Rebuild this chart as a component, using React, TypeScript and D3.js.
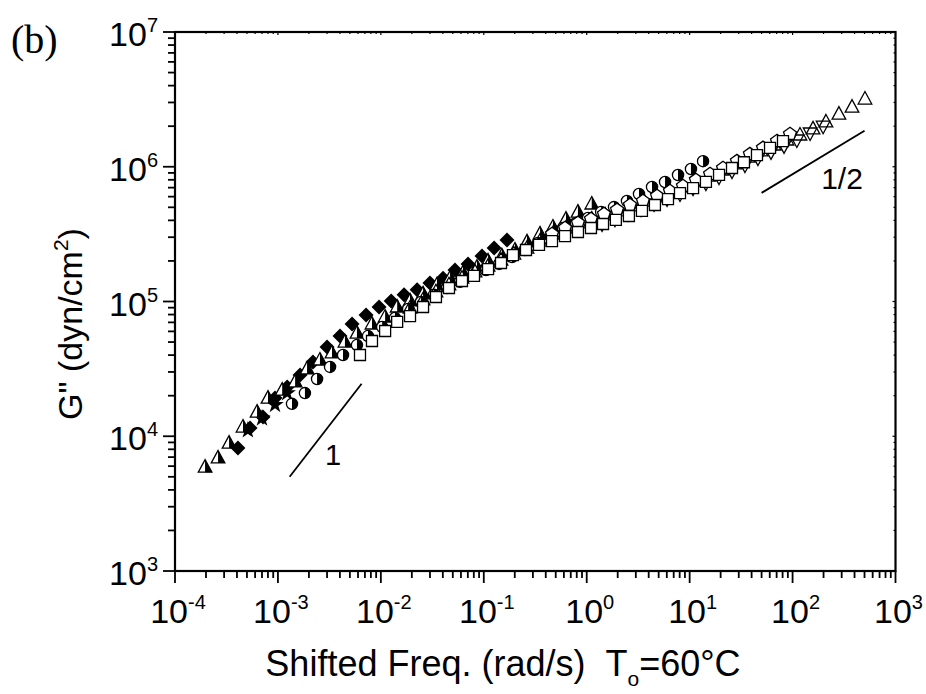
import React from 'react';
import * as d3 from 'd3';

// tick labels (powers of ten)
const xExponents = [-4, -3, -2, -1, 0, 1, 2, 3];
const yExponents = [3, 4, 5, 6, 7];

// filled diamonds
const diamondFreq = [4.09e-4, 5.36e-4, 7.16e-4, 9.37e-4, 1.23e-3, 1.64e-3, 2.19e-3, 3.0e-3, 4.01e-3, 5.25e-3, 7.18e-3, 9.6e-3, 1.26e-2, 1.68e-2, 2.25e-2, 3.0e-2, 4.02e-2, 5.25e-2, 7.03e-2, 9.61e-2, 0.126, 0.168];
const diamondG = [8.18e3, 1.15e4, 1.39e4, 1.92e4, 2.32e4, 2.85e4, 3.56e4, 4.59e4, 5.54e4, 6.8e4, 7.94e4, 9.1e4, 1.01e5, 1.12e5, 1.22e5, 1.37e5, 1.49e5, 1.71e5, 1.9e5, 2.18e5, 2.49e5, 2.86e5];

// half filled triangles
const halfTriFreq = [1.96e-4, 2.62e-4, 3.35e-4, 4.58e-4, 6.27e-4, 8.01e-4, 1.1e-3, 1.47e-3, 1.92e-3, 2.56e-3, 3.35e-3, 4.48e-3, 5.86e-3, 8.2e-3, 1.1e-2, 1.44e-2, 1.92e-2, 2.57e-2, 3.51e-2, 4.7e-2, 6.28e-2, 8.59e-2, 0.11, 0.15, 0.201, 0.263, 0.352, 0.47, 0.629, 0.822, 1.12];
const halfTriG = [5.9e3, 6.9e3, 8.9e3, 1.17e4, 1.51e4, 1.92e4, 2.2e4, 2.53e4, 3.16e4, 3.68e4, 4.15e4, 5.0e4, 5.83e4, 6.81e4, 7.67e4, 9.1e4, 1.01e5, 1.14e5, 1.33e5, 1.49e5, 1.63e5, 1.8e5, 2.0e5, 2.18e5, 2.41e5, 2.77e5, 3.17e5, 3.57e5, 4.09e5, 4.61e5, 5.29e5];

// stars
const starFreq = [5.11e-4, 7.0e-4, 9.37e-4, 1.23e-3];
const starG = [1.11e4, 1.36e4, 1.71e4, 2.09e4];

// half filled circles
const halfCircFreq = [1.37e-3, 1.83e-3, 2.4e-3, 3.21e-3, 4.29e-3, 5.86e-3, 7.5e-3, 1.03e-2, 1.37e-2, 1.84e-2, 2.45e-2, 3.28e-2, 4.39e-2, 5.87e-2, 7.85e-2, 0.105, 0.141, 0.188, 0.251, 0.336, 0.45, 0.589, 0.787, 1.03, 1.38, 1.84, 2.46, 3.22, 4.31, 5.77, 7.71, 10.3, 13.5];
const halfCircG = [1.74e4, 2.09e4, 2.66e4, 3.27e4, 4.01e4, 4.75e4, 5.54e4, 6.47e4, 7.55e4, 8.8e4, 9.91e4, 1.12e5, 1.26e5, 1.4e5, 1.55e5, 1.71e5, 1.9e5, 2.14e5, 2.41e5, 2.72e5, 3.06e5, 3.51e5, 3.83e5, 4.17e5, 4.61e5, 5.02e5, 5.57e5, 6.28e5, 7.08e5, 7.71e5, 8.69e5, 9.62e5, 1.1e6];

// open triangles
const triFreq = [0.0192, 0.0257, 0.0343, 0.0459, 0.0614, 0.0822, 0.11, 0.147, 0.196, 0.263, 0.352, 0.47, 0.629, 0.841, 1.12, 1.51, 2.01, 2.69, 3.6, 4.82, 6.44, 8.61, 11.5, 15.4, 20.6, 27.6, 36.9, 49.3, 66.1, 88.3, 118, 158, 211, 282, 378, 505];
const triG = [8.95e4, 1.03e5, 1.18e5, 1.33e5, 1.49e5, 1.66e5, 1.83e5, 2.03e5, 2.25e5, 2.49e5, 2.81e5, 3.17e5, 3.51e5, 3.83e5, 4.09e5, 4.39e5, 4.7e5, 5.12e5, 5.57e5, 5.97e5, 6.5e5, 7.08e5, 7.84e5, 8.53e5, 9.46e5, 1.05e6, 1.18e6, 1.31e6, 1.45e6, 1.58e6, 1.72e6, 1.91e6, 2.15e6, 2.46e6, 2.77e6, 3.18e6];

// open inverted triangles
const invTriFreq = [1.41, 1.88, 2.52, 3.37, 4.51, 6.03, 8.06, 10.8, 14.4, 19.3, 25.8, 34.5, 46.1, 61.7, 82.6, 110, 148, 198];
const invTriG = [3.76e5, 4.09e5, 4.46e5, 4.85e5, 5.29e5, 5.77e5, 6.28e5, 6.95e5, 7.57e5, 8.39e5, 9.29e5, 1.03e6, 1.16e6, 1.29e6, 1.43e6, 1.58e6, 1.78e6, 2.0e6];

// open pentagons
const pentFreq = [0.46, 0.615, 0.822, 1.1, 1.47, 1.97, 2.63, 3.52, 4.82, 6.44, 8.61, 11.5, 15.8, 21.1, 28.8, 38.5, 51.6, 70.6, 94.4];
const pentG = [3.17e5, 3.51e5, 3.83e5, 4.09e5, 4.46e5, 4.78e5, 5.2e5, 5.57e5, 6.07e5, 6.61e5, 7.19e5, 7.98e5, 8.83e5, 9.79e5, 1.1e6, 1.24e6, 1.38e6, 1.55e6, 1.75e6];

// open squares
const squareFreq = [6.27e-3, 8.2e-3, 1.1e-2, 1.44e-2, 1.92e-2, 2.57e-2, 3.43e-2, 4.59e-2, 6.14e-2, 8.03e-2, 0.11, 0.147, 0.192, 0.257, 0.344, 0.46, 0.615, 0.822, 1.1, 1.44, 1.92, 2.57, 3.44, 4.6, 6.16, 8.06, 10.8, 14.4, 19.3, 25.8, 33.7, 45.1, 60.4, 80.7];
const squareG = [4.01e4, 5.09e4, 6.04e4, 7.05e4, 7.8e4, 9.1e4, 1.08e5, 1.26e5, 1.42e5, 1.55e5, 1.74e5, 1.93e5, 2.21e5, 2.41e5, 2.63e5, 2.81e5, 3.06e5, 3.28e5, 3.51e5, 3.76e5, 4.03e5, 4.31e5, 4.7e5, 5.2e5, 5.76e5, 6.38e5, 6.95e5, 7.71e5, 8.69e5, 9.79e5, 1.08e6, 1.22e6, 1.38e6, 1.55e6];

// slope guides
const slopeOneFreq = [1.3e-3, 6.5e-3];
const slopeOneG = [5.0e3, 2.45e4];
const slopeHalfFreq = [50, 500];
const slopeHalfG = [6.4e5, 1.85e6];

const W = 926;
const H = 694;
const LEFT = 175;
const RIGHT = 895.5;
const TOP = 32;
const BOTTOM = 571;

const SANS = '"Liberation Sans", Arial, sans-serif';

const x = d3.scaleLog().domain([1e-4, 1e3]).range([LEFT, RIGHT]);
const y = d3.scaleLog().domain([1e3, 1e7]).range([BOTTOM, TOP]);

const isMajor = (v: number) => Math.abs(Math.log10(v) - Math.round(Math.log10(v))) < 1e-6;

const diamondPath = 'M0,-7.5L7.5,0L0,7.5L-7.5,0Z';
const triPath = 'M0,-7.5L6.8,5L-6.8,5Z';
const triRightHalf = 'M0,-7.5L6.8,5L0,5Z';
const invTriPath = 'M0,7.5L6.8,-5L-6.8,-5Z';
const squarePath = 'M-5.5,-5.5H5.5V5.5H-5.5Z';
const pentPath = (() => {
  const r = 6.8;
  const pts = d3.range(5).map((i) => {
    const a = -Math.PI / 2 + (i * 2 * Math.PI) / 5;
    return [r * Math.cos(a), r * Math.sin(a)];
  });
  return 'M' + pts.map((p) => p.join(',')).join('L') + 'Z';
})();
const starPath = d3.symbol().type(d3.symbolStar).size(95)() as string;
const circR = 5.6;
const circFull = `M0,${-circR}A${circR},${circR} 0 1,1 0,${circR}A${circR},${circR} 0 1,1 0,${-circR}Z`;
const circRightHalf = `M0,${-circR}A${circR},${circR} 0 0,1 0,${circR}Z`;

const zip = (f: number[], g: number[]) => f.map((v, i) => [v, g[i]] as [number, number]);

const Marks = ({ data, paths }: { data: [number, number][]; paths: { d: string; fill: string; stroke?: string }[] }) => (
  <g>
    {data.map(([f, g], i) => (
      <g key={i} transform={`translate(${x(f)},${y(g)})`}>
        {paths.map((p, j) => (
          <path key={j} d={p.d} fill={p.fill} stroke={p.stroke ?? 'none'} strokeWidth={1.3} />
        ))}
      </g>
    ))}
  </g>
);

const Pow = ({ e, px, py, anchor }: { e: number; px: number; py: number; anchor: string }) => (
  <text x={px} y={py} textAnchor={anchor} fontFamily={SANS} fontSize={34} fill="#000">
    10
    <tspan dy={-14} fontSize={20}>{e}</tspan>
  </text>
);

export default function App() {
  const xTicks = x.ticks();
  const yTicks = y.ticks();
  const line = d3
    .line<[number, number]>()
    .x((d) => x(d[0]))
    .y((d) => y(d[1]));

  return (
    <svg width={W} height={H} style={{ position: 'absolute', left: 0, top: 0, background: '#fff' }}>
      <rect width={W} height={H} fill="#fff" />

      {/* frame */}
      <rect x={LEFT} y={TOP} width={RIGHT - LEFT} height={BOTTOM - TOP} fill="none" stroke="#000" strokeWidth={2.2} />

      {/* x ticks: outside on bottom, tiny inside on top */}
      {xTicks.map((v, i) => {
        const major = isMajor(v);
        return (
          <g key={'xt' + i}>
            <line x1={x(v)} x2={x(v)} y1={BOTTOM} y2={BOTTOM + (major ? 12 : 7)} stroke="#000" strokeWidth={1.8} />
            <line x1={x(v)} x2={x(v)} y1={TOP} y2={TOP + (major ? 3 : 2)} stroke="#000" strokeWidth={1.2} />
          </g>
        );
      })}
      {/* y ticks: outside on left, tiny inside on right */}
      {yTicks.map((v, i) => {
        const major = isMajor(v);
        return (
          <g key={'yt' + i}>
            <line y1={y(v)} y2={y(v)} x1={LEFT} x2={LEFT - (major ? 12 : 7)} stroke="#000" strokeWidth={1.8} />
            <line y1={y(v)} y2={y(v)} x1={RIGHT} x2={RIGHT - (major ? 3 : 2)} stroke="#000" strokeWidth={1.2} />
          </g>
        );
      })}

      {xExponents.map((e) => (
        <Pow key={'xl' + e} e={e} px={x(Math.pow(10, e)) + 3} py={623} anchor="middle" />
      ))}
      {yExponents.map((e) => (
        <Pow key={'yl' + e} e={e} px={158} py={y(Math.pow(10, e)) + 14} anchor="end" />
      ))}

      <text x={503} y={676} textAnchor="middle" fontFamily={SANS} fontSize={36}>
        {'Shifted Freq. (rad/s)\u00a0\u00a0T'}
        <tspan dy={10} fontSize={21}>o</tspan>
        <tspan dy={-10}>=60°C</tspan>
      </text>

      <text transform="translate(82,324) rotate(-90)" textAnchor="middle" fontFamily={SANS} fontSize={34}>
        G" (dyn/cm
        <tspan dy={-14} fontSize={21}>2</tspan>
        <tspan dy={14}>)</tspan>
      </text>

      <text x={11} y={53} fontFamily='"Liberation Serif", "Times New Roman", serif' fontSize={40}>
        (b)
      </text>

      {/* data */}
      <Marks data={zip(diamondFreq, diamondG)} paths={[{ d: diamondPath, fill: '#000' }]} />
      <Marks data={zip(starFreq, starG)} paths={[{ d: starPath, fill: '#000' }]} />
      <Marks
        data={zip(halfTriFreq, halfTriG)}
        paths={[
          { d: triPath, fill: '#fff', stroke: '#000' },
          { d: triRightHalf, fill: '#000' },
        ]}
      />
      <Marks
        data={zip(halfCircFreq, halfCircG)}
        paths={[
          { d: circFull, fill: '#fff', stroke: '#000' },
          { d: circRightHalf, fill: '#000' },
        ]}
      />
      <Marks data={zip(triFreq, triG)} paths={[{ d: triPath, fill: 'none', stroke: '#000' }]} />
      <Marks data={zip(invTriFreq, invTriG)} paths={[{ d: invTriPath, fill: 'none', stroke: '#000' }]} />
      <Marks data={zip(pentFreq, pentG)} paths={[{ d: pentPath, fill: '#fff', stroke: '#000' }]} />
      <Marks data={zip(squareFreq, squareG)} paths={[{ d: squarePath, fill: '#fff', stroke: '#000' }]} />

      {/* slope guides */}
      <path d={line(zip(slopeOneFreq, slopeOneG)) ?? ''} stroke="#000" strokeWidth={1.8} fill="none" />
      <path d={line(zip(slopeHalfFreq, slopeHalfG)) ?? ''} stroke="#000" strokeWidth={1.8} fill="none" />
      <text x={333} y={465} textAnchor="middle" fontFamily={SANS} fontSize={29}>
        1
      </text>
      <text x={842} y={189} textAnchor="middle" fontFamily={SANS} fontSize={30}>
        1/2
      </text>
    </svg>
  );
}
